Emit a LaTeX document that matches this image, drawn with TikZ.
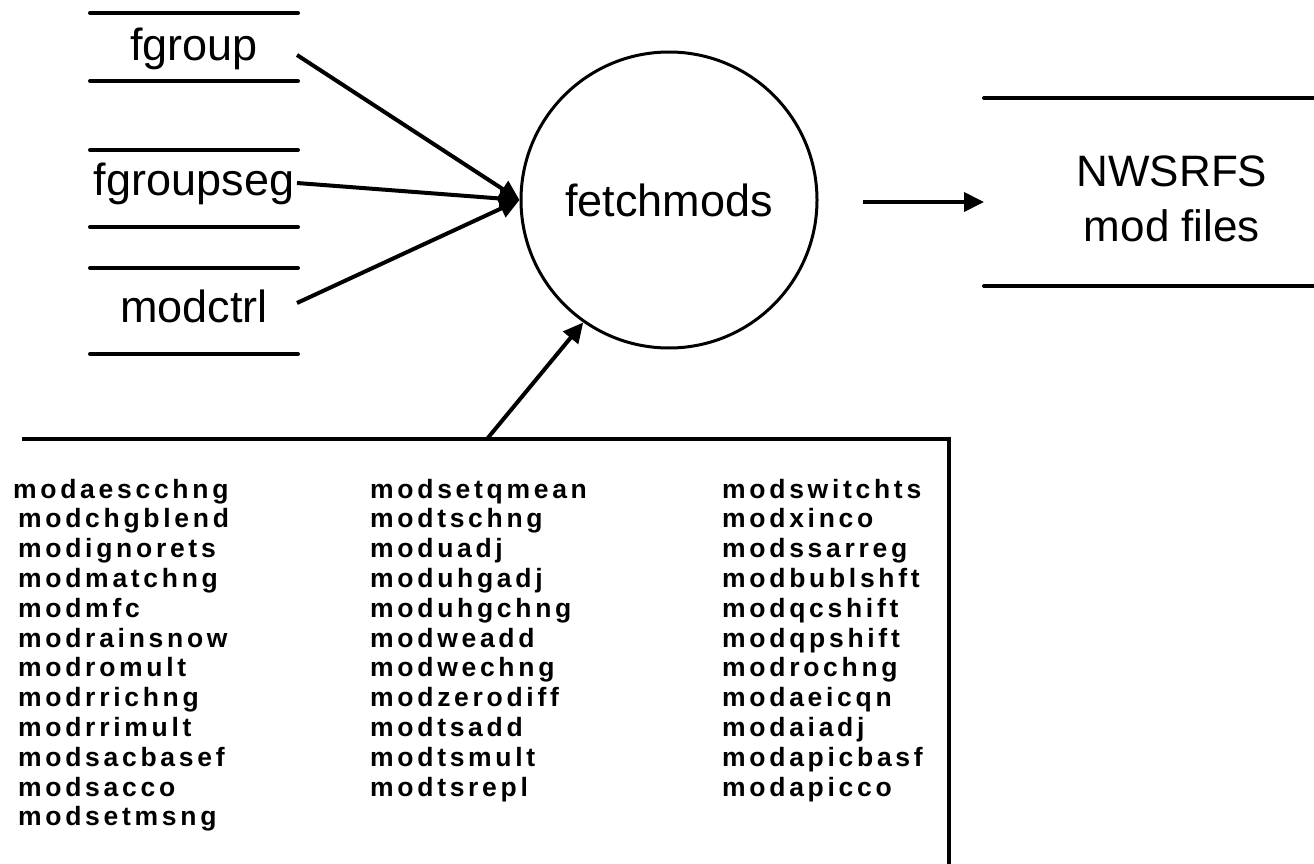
\documentclass[tikz,border=0pt]{standalone}
\usepackage{fontspec}
\setmainfont{Liberation Sans}
\usetikzlibrary{arrows.meta}
\begin{document}
\begin{tikzpicture}[x=1pt,y=-1pt,
  wire/.style={line width=4pt,line cap=round},
  flow/.style={line width=4pt,-{Triangle[length=20pt,width=19pt]}},
  storetext/.style={inner sep=0pt,font=\fontsize{45}{54}\selectfont},
  process/.style={draw,circle,line width=3pt,minimum size=296pt,inner sep=0pt,
    font=\fontsize{45}{54}\selectfont},
  item/.style={anchor=base west,inner sep=0pt,
    font=\fontsize{26.5}{30}\selectfont\bfseries\addfontfeature{LetterSpace=14}}
]
\useasboundingbox (0,0) rectangle (1314,864);

% input data stores
\draw[wire] (90,13) -- (298,13);
\draw[wire] (90,81) -- (298,81);
\node[storetext,anchor=base] (fgroup) at (194,61) {fgroup};
\draw[wire] (90,150) -- (298,150);
\draw[wire] (90,227) -- (298,227);
\node[storetext,anchor=base] (fgroupseg) at (194,195) {fgroupseg};
\draw[wire] (90,268) -- (298,268);
\draw[wire] (90,354) -- (298,354);
\node[storetext,anchor=base] (modctrl) at (194,322) {modctrl};

% process
\node[process] (fm) at (669,200) {fetchmods};

% output data store
\draw[wire] (984,98) -- (1320,98);
\draw[wire] (984,286) -- (1320,286);
\node[storetext,align=center,font=\fontsize{44}{55}\selectfont] (nws) at (1172,199) {NWSRFS\\mod files};

% list of mod types
\draw[line width=4pt,line join=miter] (22,439) -- (949,439) -- (949,870);

% connectors
\coordinate (fgroup-out) at (297,55);
\coordinate (fgroupseg-out) at (297,183);
\coordinate (modctrl-out) at (297,303);
\coordinate (fm-out) at (863,202);
\coordinate (nws-in) at (984,202);
\coordinate (list-out) at (487,439);
\draw[flow] (fgroup-out) -- (fm.west);
\draw[flow] (fgroupseg-out) -- (fm.west);
\draw[flow] (modctrl-out) -- (fm.west);
\draw[flow] (fm-out) -- (nws-in);
\draw[flow] (list-out) -- (fm.235);

% first column
\node[item] (c1-1) at (13,498) {modaescchng};
\foreach \w [count=\i from 2] in {modchgblend,modignorets,modmatchng,modmfc,
  modrainsnow,modromult,modrrichng,modrrimult,modsacbasef,modsacco,modsetmsng}
  \node[item] (c1-\i) at (18,468.2+\i*29.8) {\w};
% second column
\foreach \w [count=\i] in {modsetqmean,modtschng,moduadj,moduhgadj,moduhgchng,
  modweadd,modwechng,modzerodiff,modtsadd,modtsmult,modtsrepl}
  \node[item] (c2-\i) at (370,468.2+\i*29.8) {\w};
% third column
\foreach \w [count=\i] in {modswitchts,modxinco,modssarreg,modbublshft,modqcshift,
  modqpshift,modrochng,modaeicqn,modaiadj,modapicbasf,modapicco}
  \node[item] (c3-\i) at (722,468.2+\i*29.8) {\w};
\end{tikzpicture}
\end{document}
